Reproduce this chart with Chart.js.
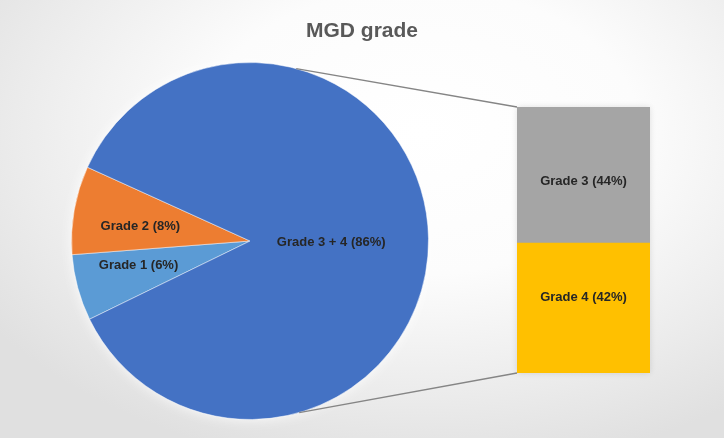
<!DOCTYPE html>
<html>
<head>
<meta charset="utf-8">
<script src="https://cdn.jsdelivr.net/npm/chart.js@4.4.0/dist/chart.umd.min.js"></script>
<style>
html,body{margin:0;padding:0;background:#fff;}
#wrap{position:relative;width:724px;height:438px;overflow:hidden;
  background:radial-gradient(ellipse 72% 78% at 58% 30%, #ffffff 0%, #fcfcfc 42%, #ebebeb 78%, #e0e0e0 100%);}
#title{position:absolute;left:0;top:18px;width:724px;text-align:center;
  font:bold 21px "Liberation Sans",Arial,sans-serif;line-height:24px;color:#595959;}
#pie{position:absolute;left:0;top:0;}
#bar{position:absolute;left:517px;top:107px;box-shadow:0 0 6px rgba(0,0,0,0.12);}
</style>
</head>
<body>
<div id="wrap">
  <canvas id="pie" width="724" height="438"></canvas>
  <canvas id="bar" width="133" height="266"></canvas>
  <div id="title">MGD grade</div>
</div>
<script>
// pie part
var pieLabels = ['Grade 1', 'Grade 2', 'Grade 3 + 4'];
var pieValues = [6, 8, 86];
var pieColors = ['#5B9BD5', '#ED7D31', '#4472C4'];
// label placement: fraction of radius, angle shift in degrees
var pieLabelRadius = [0.64, 0.62, 0.455];
var pieLabelShift = [2.6, -2.2, 2];

// bar part (split of grade 3 + 4), bottom first
var barLabels = ['Grade 4', 'Grade 3'];
var barValues = [42, 44];
var barColors = ['#FFC000', '#A5A5A5'];
// label placement: fraction from top of each segment
var barLabelPos = [0.42, 0.55];

var labelFont = 'bold 13px "Liberation Sans", Arial, sans-serif';
var labelColor = '#262626';

Chart.defaults.animation = false;

var barLabelPlugin = {
    id: 'barLabels',
    afterDatasetsDraw: function(chart) {
        var ctx = chart.ctx;
        ctx.save();
        ctx.font = labelFont;
        ctx.fillStyle = labelColor;
        ctx.textAlign = 'center';
        ctx.textBaseline = 'middle';
        chart.data.datasets.forEach(function(ds, i) {
            var el = chart.getDatasetMeta(i).data[0];
            var y = el.y + (el.base - el.y) * barLabelPos[i];
            ctx.fillText(ds.label + ' (' + ds.data[0] + '%)', el.x, y);
        });
        ctx.restore();
    }
};

var barChart = new Chart(document.getElementById('bar'), {
    type: 'bar',
    data: {
        labels: [''],
        datasets: barLabels.map(function(l, i) {
            return {label: l, data: [barValues[i]], backgroundColor: barColors[i],
                    borderWidth: 0, barPercentage: 1, categoryPercentage: 1};
        })
    },
    options: {
        responsive: false,
        layout: {padding: 0},
        plugins: {legend: {display: false}, tooltip: {enabled: false}, title: {display: false}},
        scales: {
            x: {display: false, stacked: true},
            y: {display: false, stacked: true, min: 0, max: 86}
        }
    },
    plugins: [barLabelPlugin]
});

var pieExtras = {
    id: 'pieExtras',
    beforeDatasetsDraw: function(chart) {
        // soft light halo round the pie
        var arc = chart.getDatasetMeta(0).data[0];
        var ctx = chart.ctx;
        ctx.save();
        ctx.shadowColor = 'rgba(255,255,255,0.95)';
        ctx.shadowBlur = 14;
        ctx.fillStyle = '#4472C4';
        ctx.beginPath();
        ctx.arc(arc.x, arc.y, arc.outerRadius - 1, 0, Math.PI * 2);
        ctx.fill();
        ctx.restore();
    },
    afterDatasetsDraw: function(chart) {
        var ctx = chart.ctx;
        var meta = chart.getDatasetMeta(0);
        ctx.save();
        ctx.font = labelFont;
        ctx.fillStyle = labelColor;
        ctx.textAlign = 'center';
        ctx.textBaseline = 'middle';
        meta.data.forEach(function(arc, i) {
            var mid = (arc.startAngle + arc.endAngle) / 2 + pieLabelShift[i] * Math.PI / 180;
            var r = arc.outerRadius * pieLabelRadius[i];
            ctx.fillText(pieLabels[i] + ' (' + pieValues[i] + '%)',
                arc.x + Math.cos(mid) * r, arc.y + Math.sin(mid) * r);
        });

        // connector lines to the stacked bar
        var arc = meta.data[0];
        var cv = document.getElementById('bar');
        var ox = cv.offsetLeft, oy = cv.offsetTop;
        var bm = barChart.getDatasetMeta(1).data[0];
        var bb = barChart.getDatasetMeta(0).data[0];
        var a1 = -75 * Math.PI / 180, a2 = 74 * Math.PI / 180;
        ctx.strokeStyle = '#858585';
        ctx.lineWidth = 1.3;
        ctx.beginPath();
        ctx.moveTo(arc.x + Math.cos(a1) * arc.outerRadius, arc.y + Math.sin(a1) * arc.outerRadius);
        ctx.lineTo(ox + bm.x - bm.width / 2, oy + bm.y);
        ctx.moveTo(arc.x + Math.cos(a2) * arc.outerRadius, arc.y + Math.sin(a2) * arc.outerRadius);
        ctx.lineTo(ox + bb.x - bb.width / 2, oy + bb.base);
        ctx.stroke();
        ctx.restore();
    }
};

var pieChart = new Chart(document.getElementById('pie'), {
    type: 'pie',
    data: {
        labels: pieLabels,
        datasets: [{
            data: pieValues,
            backgroundColor: pieColors,
            borderColor: 'rgba(255,255,255,0.5)',
            borderWidth: 1
        }]
    },
    options: {
        responsive: false,
        rotation: 244,
        layout: {padding: {left: 71, top: 62, right: 295, bottom: 18}},
        plugins: {legend: {display: false}, tooltip: {enabled: false}, title: {display: false}}
    },
    plugins: [pieExtras]
});
</script>
</body>
</html>
